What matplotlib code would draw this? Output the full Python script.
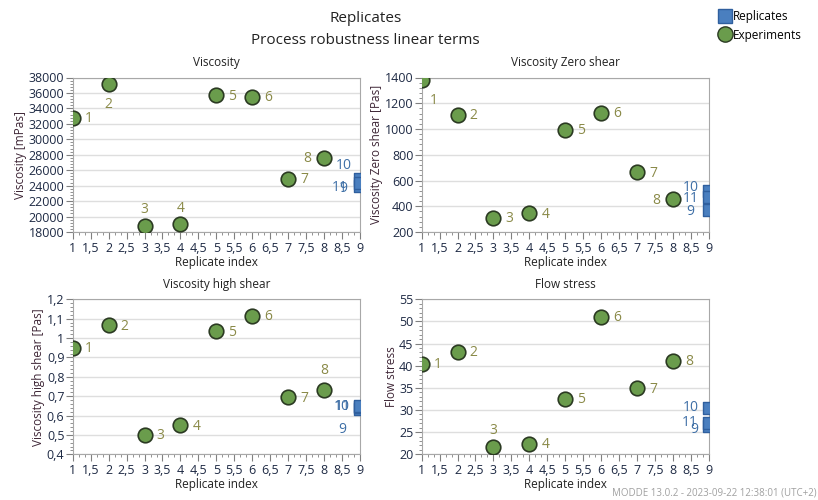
import matplotlib
matplotlib.use("Agg")
import matplotlib.pyplot as plt
from matplotlib.ticker import MultipleLocator, AutoMinorLocator, FuncFormatter
from matplotlib.lines import Line2D

plt.rcParams["font.family"] = ["Open Sans", "DejaVu Sans"]

# experiments 1..8 at their replicate index, replicates 9..11 at index 9
EXP_IDX = [1, 2, 3, 4, 5, 6, 7, 8]
EXP_NUM = ["1", "2", "3", "4", "5", "6", "7", "8"]
REP_IDX = [9, 9, 9]
REP_NUM = ["9", "10", "11"]

VISC_EXP = [32800, 37100, 18800, 19000, 35700, 35500, 24900, 27600]
VISC_REP = [24000, 24900, 24300]

ZERO_EXP = [1380, 1110, 310, 345, 995, 1125, 665, 455]
ZERO_REP = [370, 520, 470]

HIGH_EXP = [0.95, 1.065, 0.50, 0.55, 1.035, 1.115, 0.695, 0.73]
HIGH_REP = [0.635, 0.645, 0.65]

FLOW_EXP = [40.5, 43.2, 21.7, 22.4, 32.6, 51.1, 34.9, 41.1]
FLOW_REP = [26.3, 30.5, 27.0]

GREEN = "#6a9c4c"
BLUE = "#4a7fbf"
EXP_TXT = "#8a8a48"
REP_TXT = "#3e6fa6"

R, L, U, D = (16, -1), (-17, -1), (0, 16), (0, -20)

panels = [
    dict(title="Viscosity", ylabel="Viscosity [mPas]", exp=VISC_EXP, rep=VISC_REP,
         ylim=(18000, 38000), ystep=2000, dec=0,
         pos=[0.0889, 0.536, 0.3512, 0.309],
         eoff=[R, D, U, U, R, R, R, L],
         roff=[(-17, -3), (-16, 13), (-20, -4)]),
    dict(title="Viscosity Zero shear", ylabel="Viscosity Zero shear [Pas]", exp=ZERO_EXP, rep=ZERO_REP,
         ylim=(200, 1400), ystep=200, dec=0,
         pos=[0.5155, 0.536, 0.3509, 0.309],
         eoff=[(12, -20), R, R, R, R, R, R, L],
         roff=[(-18, -1), (-18, 3), (-18, -1)]),
    dict(title="Viscosity high shear", ylabel="Viscosity high shear [Pas]", exp=HIGH_EXP, rep=HIGH_REP,
         ylim=(0.4, 1.2), ystep=0.1, dec=1,
         pos=[0.0889, 0.0914, 0.3512, 0.31],
         eoff=[R, R, R, R, R, R, R, (0, 20)],
         roff=[(-18, -21), (-18, 0), (-17, -1)]),
    dict(title="Flow stress", ylabel="Flow stress", exp=FLOW_EXP, rep=FLOW_REP,
         ylim=(20, 55), ystep=5, dec=0,
         pos=[0.5155, 0.0914, 0.3509, 0.31],
         eoff=[R, R, U, R, R, R, R, R],
         roff=[(-14, -3), (-18, 0), (-19, 1)]),
]


def comma_fmt(dec):
    def f(v, _):
        if abs(v - round(v)) < 1e-9:
            return f"{int(round(v))}"
        return f"{v:.{max(dec, 1)}f}".rstrip("0").replace(".", ",")
    return FuncFormatter(f)


fig = plt.figure(figsize=(8.18, 5.0), dpi=100)

for p in panels:
    ax = fig.add_axes(p["pos"])
    ax.scatter(REP_IDX, p["rep"], marker="s", s=70, color=BLUE, edgecolor="#2f5f9e",
               linewidth=1.0, zorder=3, clip_on=True)
    ax.scatter(EXP_IDX, p["exp"], marker="o", s=110, color=GREEN, edgecolor="#2b3a22",
               linewidth=1.2, zorder=4, clip_on=True)
    for x, y, t, o in zip(EXP_IDX, p["exp"], EXP_NUM, p["eoff"]):
        ax.annotate(t, (x, y), xytext=o, textcoords="offset pixels", ha="center", va="center",
                    fontsize=10, color=EXP_TXT, zorder=5)
    for x, y, t, o in zip(REP_IDX, p["rep"], REP_NUM, p["roff"]):
        ax.annotate(t, (x, y), xytext=o, textcoords="offset pixels", ha="center", va="center",
                    fontsize=10, color=REP_TXT, zorder=5)

    ax.set_xlim(1, 9)
    ax.set_ylim(*p["ylim"])
    ax.xaxis.set_major_locator(MultipleLocator(0.5))
    ax.xaxis.set_minor_locator(AutoMinorLocator(3))
    ax.yaxis.set_major_locator(MultipleLocator(p["ystep"]))
    ax.yaxis.set_minor_locator(AutoMinorLocator(5))
    ax.xaxis.set_major_formatter(comma_fmt(1))
    ax.yaxis.set_major_formatter(comma_fmt(p["dec"]))
    ax.grid(True, axis="y", color="#dedede", linewidth=1.0)
    ax.set_axisbelow(True)
    for s in ax.spines.values():
        s.set_color("#a8a8a8")
    ax.tick_params(which="both", color="#808080", labelsize=9, labelcolor="#1e2a44")
    ax.tick_params(which="major", length=5)
    ax.tick_params(which="minor", length=2.5)
    ax.tick_params(axis="x", pad=2)
    ax.tick_params(axis="y", pad=1)
    ax.set_title(p["title"], fontsize=8.5, color="#222222", pad=8)
    ax.set_xlabel("Replicate index", fontsize=8.5, color="#222222", labelpad=1)
    ax.set_ylabel(p["ylabel"], fontsize=8.5, color="#3e2636", labelpad=1)

fig.text(0.447, 0.963, "Replicates", ha="center", va="center", fontsize=11, color="#222222")
fig.text(0.447, 0.918, "Process robustness linear terms", ha="center", va="center",
         fontsize=11, color="#222222")

handles = [
    Line2D([], [], marker="s", linestyle="none", markersize=10, markerfacecolor=BLUE,
           markeredgecolor="#2f5f9e", label="Replicates"),
    Line2D([], [], marker="o", linestyle="none", markersize=11, markerfacecolor=GREEN,
           markeredgecolor="#2b3a22", label="Experiments"),
]
fig.legend(handles=handles, loc="upper left", bbox_to_anchor=(0.872, 0.99), frameon=False,
           fontsize=8.5, handletextpad=0.1, borderaxespad=0, labelspacing=0.5, handlelength=1.2)

fig.text(0.748, 0.003, "MODDE 13.0.2 - 2023-09-22 12:38:01 (UTC+2)", ha="left", va="bottom",
         fontsize=7, color="#a0a0a0")

fig.savefig("out.png", dpi=100)
